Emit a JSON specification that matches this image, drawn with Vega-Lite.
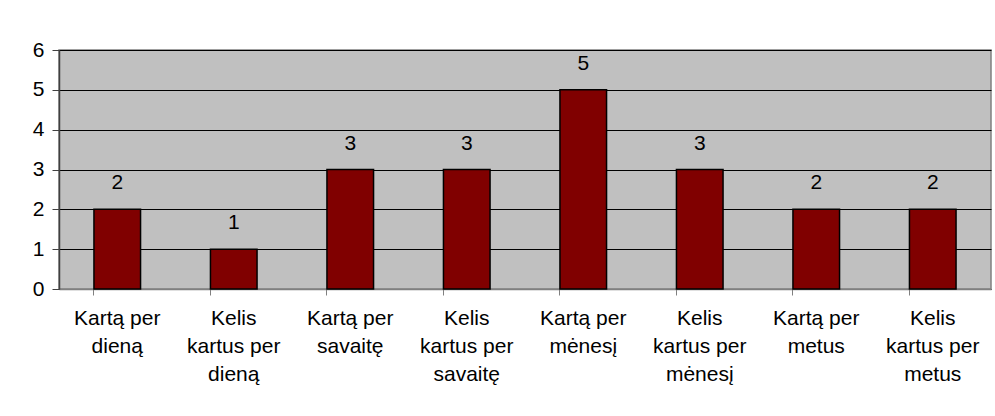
{
  "$schema": "https://vega.github.io/schema/vega-lite/v6.json",
  "width": 932,
  "height": 239,
  "autosize": {"type": "none"},
  "padding": {"left": 59, "top": 50, "right": 4, "bottom": 127},
  "background": "white",
  "config": {
    "font": "Liberation Sans",
    "view": {"fill": "#C0C0C0", "stroke": "#808080", "strokeWidth": 1.5}
  },
  "data": {
    "values": [
      {"category": "Kartą per dieną", "value": 2},
      {"category": "Kelis kartus per dieną", "value": 1},
      {"category": "Kartą per savaitę", "value": 3},
      {"category": "Kelis kartus per savaitę", "value": 3},
      {"category": "Kartą per mėnesį", "value": 5},
      {"category": "Kelis kartus per mėnesį", "value": 3},
      {"category": "Kartą per metus", "value": 2},
      {"category": "Kelis kartus per metus", "value": 2}
    ]
  },
  "encoding": {
    "x": {
      "field": "category",
      "type": "nominal",
      "sort": null,
      "scale": {"paddingInner": 0.6, "paddingOuter": 0.3},
      "axis": {
        "title": null,
        "labelAngle": 0,
        "bandPosition": 0,
        "labelFontSize": 21,
        "labelColor": "black",
        "labelLineHeight": 28,
        "labelPadding": 12,
        "tickSize": 6,
        "tickColor": "#808080",
        "domainColor": "#808080",
        "domainWidth": 1.5,
        "labelExpr": "indexof(datum.label,'Kelis')==0 ? ['Kelis', 'kartus per', replace(datum.label,'Kelis kartus per ','')] : ['Kartą per', replace(datum.label,'Kartą per ','')]"
      }
    },
    "y": {
      "field": "value",
      "type": "quantitative",
      "scale": {"domain": [0, 6]},
      "axis": {
        "title": null,
        "values": [0, 1, 2, 3, 4, 5, 6],
        "labelFontSize": 21,
        "labelColor": "black",
        "labelPadding": 8,
        "tickSize": 7,
        "tickColor": "#404040",
        "domainColor": "#404040",
        "domainWidth": 1.5,
        "grid": true,
        "gridColor": "black",
        "gridWidth": 1
      }
    }
  },
  "layer": [
    {
      "mark": {"type": "bar", "color": "#800000", "stroke": "black", "strokeWidth": 1.5}
    },
    {
      "mark": {"type": "text", "fontSize": 21, "color": "black", "baseline": "alphabetic", "dy": -20},
      "encoding": {"text": {"field": "value", "type": "quantitative"}}
    }
  ]
}
